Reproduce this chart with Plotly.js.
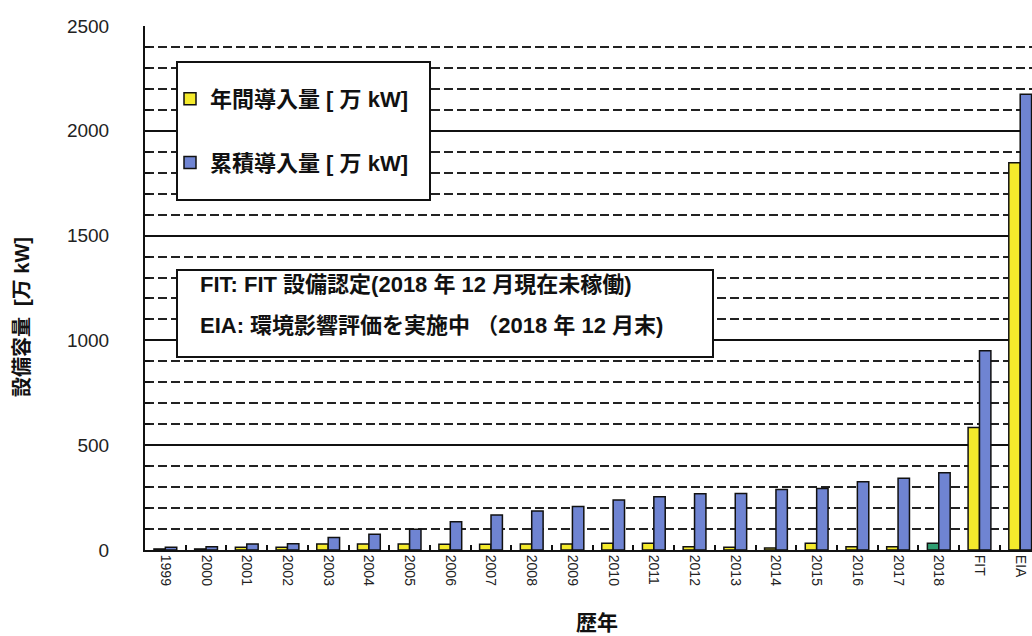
<!DOCTYPE html>
<html>
<head>
<meta charset="utf-8">
<script src="https://cdn.plot.ly/plotly-3.0.1.min.js"></script>
<style>html,body{margin:0;padding:0;background:#fff;}#chart{width:1032px;height:636px;}</style>
</head>
<body>
<div id="chart"></div>
<script>
// ---- data ----
const categories = ['1999','2000','2001','2002','2003','2004','2005','2006','2007','2008','2009',
                    '2010','2011','2012','2013','2014','2015','2016','2017','2018','FIT','EIA'];
const annualValues = [5, 5, 13, 13, 29, 29, 29, 27, 27, 29, 29,
                      32, 32, 16, 13, 10, 32, 16, 16, 32, 585, 1848];
const cumulativeValues = [13, 15, 29, 30, 60, 75, 99, 135, 167, 186, 207,
                          238, 254, 268, 270, 289, 294, 326, 342, 369, 951, 2174];
const annualName = '年間導入量 [ 万 kW]';
const cumulativeName = '累積導入量 [ 万 kW]';
const yTitle = '設備容量  [万 kW]';
const xTitle = '歴年';
const noteLine1 = 'FIT: FIT 設備認定(2018 年 12 月現在未稼働)';
const noteLine2 = 'EIA: 環境影響評価を実施中 （2018 年 12 月末)';

const FONT = 'Liberation Sans, Arial, Noto Sans CJK JP, sans-serif';
const CJK = 'Liberation Sans, Arial, Noto Sans CJK JP, sans-serif';

const traces = [
  {
    type: 'bar', x: categories, y: annualValues, name: annualName, legendgroup: 'a',
    marker: {color: categories.map(c => c === '2018' ? '#2f9e72' : '#f4ea2c'),
             line: {color: '#111', width: 1.5}}
  },
  {
    type: 'bar', x: categories, y: cumulativeValues, name: cumulativeName, legendgroup: 'b',
    marker: {color: '#6f84d2', line: {color: '#111', width: 1.5}}
  }
];

const plotLeft = 145, plotRight = 1032, plotTop = 26, plotBottom = 550;
const pw = plotRight - plotLeft, ph = plotBottom - plotTop;
const px = x => (x - plotLeft) / pw;
const py = y => (plotBottom - y) / ph;

const layout = {
  width: 1032, height: 636,
  margin: {l: plotLeft, r: 0, t: plotTop, b: 636 - plotBottom, pad: 0},
  paper_bgcolor: '#fff', plot_bgcolor: '#fff',
  barmode: 'group', bargap: 0.44, bargroupgap: 0,
  showlegend: true,
  legend: {
    x: px(170), y: py(78), xanchor: 'left', yanchor: 'top',
    bgcolor: 'rgba(0,0,0,0)', borderwidth: 0,
    font: {family: CJK, size: 22, color: '#111', weight: 'bold'},
    traceorder: 'grouped', tracegroupgap: 32, itemwidth: 30
  },
  xaxis: {
    type: 'category', range: [-0.5, 21.29],
    tickangle: 90, ticks: 'inside', tickson: 'boundaries', ticklen: 5, tickwidth: 2, tickcolor: '#111',
    tickfont: {family: FONT, size: 14, color: '#222'},
    showline: true, linecolor: '#111', linewidth: 2,
    showgrid: false, zeroline: false, fixedrange: true
  },
  yaxis: {
    range: [0, 2500], dtick: 500, tick0: 0,
    ticks: 'inside', ticklen: 5, tickwidth: 2, tickcolor: '#111',
    tickfont: {family: FONT, size: 19, color: '#222'},
    ticklabelstandoff: 30,
    showline: true, linecolor: '#111', linewidth: 2,
    showgrid: true, gridcolor: '#111', gridwidth: 2,
    zeroline: false,
    minor: {dtick: 100, showgrid: true, gridcolor: '#222', gridwidth: 2, griddash: '9px,4px',
            ticks: 'inside', ticklen: 5, tickcolor: '#111'}
  },
  shapes: [
    {type: 'rect', xref: 'paper', yref: 'paper', x0: px(177), x1: px(430), y0: py(200), y1: py(62),
     fillcolor: '#fff', line: {color: '#111', width: 2}, layer: 'above'},
    {type: 'rect', xref: 'paper', yref: 'paper', x0: px(177), x1: px(713), y0: py(357), y1: py(270),
     fillcolor: '#fff', line: {color: '#111', width: 2}, layer: 'above'}
  ],
  annotations: [
    {xref: 'paper', yref: 'paper', x: px(198), y: py(284), xanchor: 'left', yanchor: 'middle',
     text: noteLine1, showarrow: false, font: {family: CJK, size: 22, color: '#111', weight: 'bold'}},
    {xref: 'paper', yref: 'paper', x: px(198), y: py(325), xanchor: 'left', yanchor: 'middle',
     text: noteLine2, showarrow: false, font: {family: CJK, size: 22, color: '#111', weight: 'bold'}},
    {xref: 'paper', yref: 'paper', x: px(22), y: py(317), xanchor: 'center', yanchor: 'middle',
     text: yTitle, textangle: -90, showarrow: false, font: {family: CJK, size: 20, color: '#111', weight: 'bold'}},
    {xref: 'paper', yref: 'paper', x: px(597), y: py(622), xanchor: 'center', yanchor: 'middle',
     text: xTitle, showarrow: false, font: {family: CJK, size: 21, color: '#111', weight: 'bold'}}
  ]
};

Plotly.newPlot('chart', traces, layout, {displayModeBar: false, staticPlot: true});
</script>
</body>
</html>
